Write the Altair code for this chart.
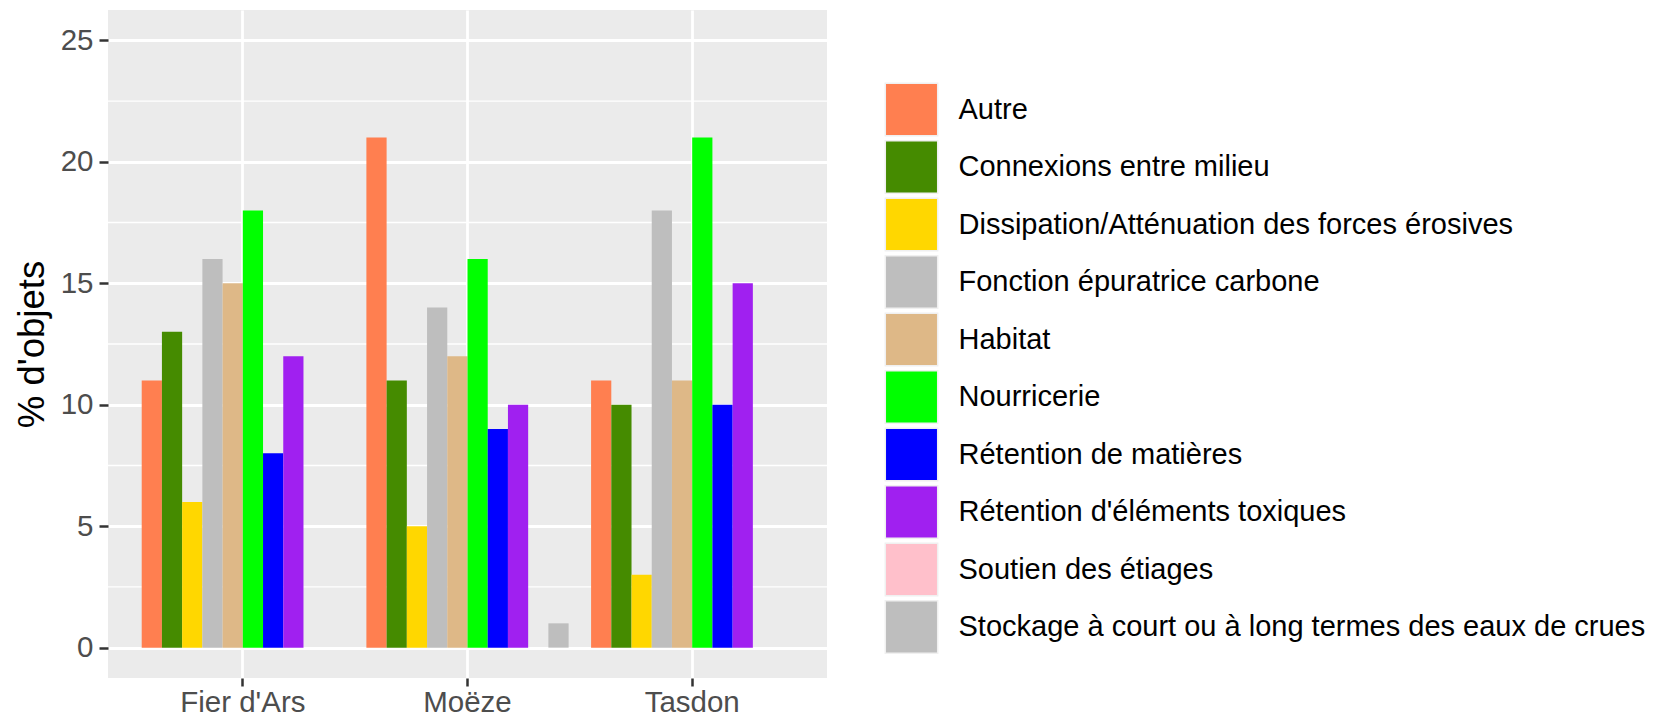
import altair as alt
import pandas as pd

groups = ["Fier d'Ars", "Moëze", "Tasdon"]
categories = [
    "Autre",
    "Connexions entre milieu",
    "Dissipation/Atténuation des forces érosives",
    "Fonction épuratrice carbone",
    "Habitat",
    "Nourricerie",
    "Rétention de matières",
    "Rétention d'éléments toxiques",
    "Soutien des étiages",
    "Stockage à court ou à long termes des eaux de crues",
]
colors = ["#FF7F50", "#458B00", "#FFD700", "#BEBEBE", "#DEB887",
          "#00FF00", "#0000FF", "#A020F0", "#FFC0CB", "#BEBEBE"]

fier_dars = [11, 13, 6, 16, 15, 18, 8, 12, 0, 0]
moeze = [21, 11, 5, 14, 12, 16, 9, 10, 0, 1]
tasdon = [11, 10, 3, 18, 11, 21, 10, 15, 0, 0]

y_major = [0, 5, 10, 15, 20, 25]
y_minor = [2.5, 7.5, 12.5, 17.5, 22.5]

rows = []
for g, vals in zip(groups, [fier_dars, moeze, tasdon]):
    for c, v in zip(categories, vals):
        rows.append({"site": g, "fonction": c, "value": v})
df = pd.DataFrame(rows)
minor_df = pd.DataFrame({"v": y_minor})

FONT = "Liberation Sans"
ytitle = "% d'objets"
yscale = alt.Scale(domain=[-1.25, 26.25], nice=False, zero=False)

minor = alt.Chart(minor_df).mark_rule(color="white", strokeWidth=1.4).encode(
    y=alt.Y("v:Q", scale=yscale, title=ytitle)
)

bars = alt.Chart(df).mark_bar(strokeWidth=0).encode(
    x=alt.X(
        "site:N",
        sort=groups,
        scale=alt.Scale(paddingInner=0.1, paddingOuter=0.15),
        title=None,
        axis=alt.Axis(
            labelAngle=0,
            labelFont=FONT,
            labelFontSize=29.5,
            labelColor="#4D4D4D",
            labelPadding=2,
            tickSize=8,
            tickWidth=2.5,
            tickColor="#333333",
            domain=False,
            grid=True,
            gridColor="white",
            gridWidth=2.8,
            bandPosition=0.5,
        ),
    ),
    xOffset=alt.XOffset("fonction:N", sort=categories,
                        scale=alt.Scale(paddingInner=0, paddingOuter=0)),
    y=alt.Y(
        "value:Q",
        scale=yscale,
        title=ytitle,
        axis=alt.Axis(
            values=y_major,
            labelFont=FONT,
            labelFontSize=29.5,
            labelColor="#4D4D4D",
            labelPadding=6,
            tickSize=9,
            tickWidth=2.5,
            tickColor="#333333",
            domain=False,
            grid=True,
            gridColor="white",
            gridWidth=2.8,
            titleFont=FONT,
            titleFontSize=36.5,
            titleFontWeight="normal",
            titleColor="black",
            titleAngle=270,
            titleAlign="center",
            titleBaseline="alphabetic",
            titleX=-65,
            titleY=334,
        ),
    ),
    color=alt.Color(
        "fonction:N",
        sort=categories,
        scale=alt.Scale(domain=categories, range=colors),
        legend=alt.Legend(
            title=None,
            orient="none",
            legendX=776.5,
            legendY=72.5,
            padding=0,
            symbolType="square",
            symbolSize=2750,
            symbolStrokeColor="#F0F0F0",
            symbolStrokeWidth=1.5,
            symbolOpacity=1,
            rowPadding=-2.5,
            labelOffset=20,
            labelFont=FONT,
            labelFontSize=29,
            labelColor="black",
            labelLimit=1000,
        ),
    ),
)

chart = alt.layer(minor, bars).properties(
    width=719,
    height=668,
    autosize=alt.AutoSizeParams(type="none"),
    padding={"left": 100, "top": 2, "right": 825, "bottom": 40},
).configure_view(
    fill="#EBEBEB", stroke=None
)

chart.save("out.html", embed_options={"renderer": "svg", "actions": False})
